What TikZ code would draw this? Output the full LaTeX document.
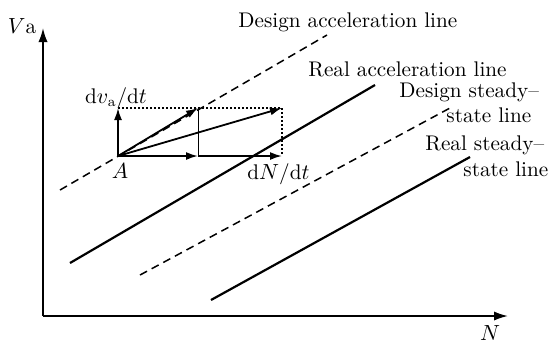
\documentclass[tikz,border=0pt]{standalone}
\usetikzlibrary{arrows.meta}
\begin{document}
\begin{tikzpicture}[x=0.5pt,y=-0.5pt,
  lbl/.style={inner sep=0pt,font=\fontsize{10.6}{12.7}\selectfont},
  axis/.style={line width=0.9pt,-{Latex[length=7pt,width=4.6pt]}},
  vec/.style={line width=0.9pt,-{Latex[length=6pt,width=4pt]}},
  solidline/.style={line width=1.1pt},
  dashline/.style={line width=0.75pt,dash pattern=on 4pt off 2.6pt},
  dotline/.style={line width=0.8pt,dash pattern=on 1pt off 1pt},
  thinline/.style={line width=0.4pt}]
\useasboundingbox (0,0) rectangle (549,344);
% points
\coordinate (O) at (43,316);
\coordinate (ytip) at (43,28);
\coordinate (xtip) at (508,316);
\coordinate (A) at (118,156);
\coordinate (P) at (118,108);
\coordinate (Q) at (198,108);
\coordinate (R) at (282,108);
\coordinate (S) at (282,156);
\coordinate (M) at (198,156);
\coordinate (da1) at (60,190);
\coordinate (da2) at (327,35);
\coordinate (ra1) at (70,263);
\coordinate (ra2) at (375,85);
\coordinate (ds1) at (140,275);
\coordinate (ds2) at (450,108);
\coordinate (rs1) at (211,300);
\coordinate (rs2) at (470,157);
% axes
\draw[axis] (O) -- (ytip);
\draw[axis] (O) -- (xtip);
% lines
\draw[dashline] (da1) -- (da2);
\draw[solidline] (ra1) -- (ra2);
\draw[dashline] (ds1) -- (ds2);
\draw[solidline] (rs1) -- (rs2);
% rectangle
\draw[dotline] (P) -- (R) -- (S);
\draw[thinline] (Q) -- (M);
% vectors
\draw[vec] (A) -- (P);
\draw[vec] (A) -- (Q);
\draw[vec] (A) -- (R);
\draw[vec] (A) -- (M);
\draw[vec] (M) -- (S);
% labels
\node[lbl] (lVa) at (22,26) {$V$a};
\node[lbl] (lN) at (490,333) {$N$};
\node[lbl] (lA) at (120,171) {$A$};
\node[lbl] (ldv) at (116,98) {d$v_{\mathrm{a}}$/d$t$};
\node[lbl,anchor=west] (ldN) at (247,174) {d$N$/d$t$};
\node[lbl,anchor=west] (lDA) at (238,22) {Design acceleration line};
\node[lbl,anchor=west] (lRA) at (308,69) {Real acceleration line};
\node[lbl,anchor=west] (lDS1) at (399,92) {Design steady--};
\node[lbl,anchor=west] (lDS2) at (446,115) {state line};
\node[lbl,anchor=west] (lRS1) at (425,145) {Real steady--};
\node[lbl,anchor=west] (lRS2) at (463,169) {state line};
\end{tikzpicture}
\end{document}
